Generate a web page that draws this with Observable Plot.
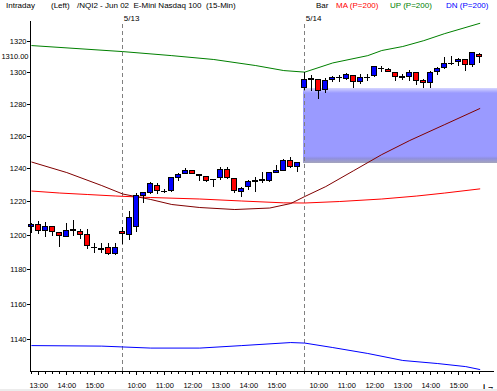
<!DOCTYPE html>
<html><head><meta charset="utf-8">
<script src="https://cdn.jsdelivr.net/npm/d3@7"></script>
<script src="https://cdn.jsdelivr.net/npm/@observablehq/plot@0.6"></script>
<style>
html,body{margin:0;padding:0;background:#fff;}
#wrap{position:relative;width:497px;height:391px;overflow:hidden;font-family:"Liberation Sans",Arial,sans-serif;}
#wrap svg{position:absolute;left:0;top:0;}
.h{position:absolute;top:1px;font-size:8px;white-space:pre;line-height:10px;color:#000;}
#foot{position:absolute;left:0;top:389px;width:497px;height:2px;background:#ececec;}
</style></head><body>
<div id="wrap">
<span class="h" style="left:6px">Intraday</span>
<span class="h" style="left:51px">(Left)</span>
<span class="h" style="left:77px">/NQI2 - Jun 02  E-Mini Nasdaq 100  (15-Min)</span>
<span class="h" style="left:316px">Bar</span>
<span class="h" style="left:336px;color:#ff0000">MA (P=200)</span>
<span class="h" style="left:390px;color:#008000">UP (P=200)</span>
<span class="h" style="left:446px;color:#0000ff">DN (P=200)</span>
<div id="foot"></div>
</div>
<script>
// 15-minute bars, index 0..64 (5/10 12:45 .. 5/14 15:45)
const open  = [1204.8,1205.8,1202.8,1205.0,1201.4,1199.2,1202.9,1201.8,1200.3,1192.5,1192.1,1192.3,1189.0,
  1202.2,1200.4,1204.8,1223.5,1225.1,1229.7,1225.8,1226.3,1234.1,1236.8,1238.8,1236.2,1235.2,1233.2,1234.1,1239.2,1233.8,1225.7,1228.7,1232.2,1232.6,1232.7,1237.4,1238.8,1244.4,1241.2,
  1290.0,1295.6,1295.4,1288.9,1295.2,1296.5,1295.8,1297.7,1293.8,1296.8,1297.8,1302.6,1301.8,1299.5,1297.0,1296.9,1299.7,1294.8,1293.1,1300.1,1302.8,1305.8,1306.7,1308.2,1304.8,1311.5];
const high  = [1207.0,1208.1,1207.4,1205.3,1201.8,1206.8,1208.7,1203.2,1203.2,1194.9,1194.9,1194.9,1194.9,
  1204.8,1214.2,1224.7,1225.5,1231.7,1231.1,1227.1,1234.7,1237.1,1240.2,1239.1,1236.4,1235.4,1233.3,1240.8,1240.4,1234.0,1228.7,1232.7,1234.7,1237.8,1237.8,1242.2,1245.8,1246.8,1243.4,
  1299.9,1298.0,1295.6,1296.0,1297.5,1298.0,1299.3,1298.0,1298.6,1298.6,1303.8,1304.0,1302.5,1300.1,1298.9,1301.2,1300.1,1295.8,1300.6,1303.3,1309.4,1310.2,1308.8,1308.3,1312.9,1312.0];
const low   = [1200.8,1200.3,1198.5,1199.2,1192.6,1198.5,1199.2,1197.3,1191.4,1189.4,1189.0,1188.4,1188.4,
  1194.5,1196.9,1201.8,1219.0,1224.3,1224.3,1225.1,1225.7,1232.0,1236.2,1236.2,1232.3,1231.3,1228.3,1232.7,1233.2,1225.1,1222.7,1226.7,1225.7,1230.7,1231.7,1236.8,1238.8,1239.8,1237.8,
  1288.3,1287.7,1283.1,1287.0,1293.7,1293.5,1294.8,1290.0,1292.5,1294.3,1296.9,1300.1,1299.9,1294.4,1295.2,1294.3,1291.8,1289.9,1289.8,1298.0,1302.3,1304.4,1304.0,1300.9,1303.5,1306.0];
const close = [1206.2,1202.8,1205.0,1202.0,1199.4,1202.6,1202.7,1200.4,1193.5,1192.6,1191.4,1189.0,1192.6,
  1200.8,1210.3,1223.7,1225.1,1230.7,1226.7,1225.6,1234.4,1236.2,1238.8,1236.8,1235.3,1232.7,1233.0,1239.2,1234.1,1226.7,1227.7,1232.1,1232.1,1232.8,1237.4,1238.8,1244.4,1241.2,1243.2,
  1295.4,1295.4,1288.3,1294.4,1296.7,1296.3,1298.4,1293.8,1296.7,1296.6,1303.5,1302.4,1300.4,1297.2,1296.8,1299.7,1294.8,1293.1,1299.7,1302.3,1305.5,1305.6,1308.1,1304.8,1312.4,1310.0];

// indicator lines (bar index, value)
const maIdx = [0,4,8,12,17,24,30,36,39,44,50,55,59,64];
const maVal = [1226.4,1225.2,1224.3,1223.4,1222.5,1221.6,1220.4,1219.3,1219.2,1220.1,1221.6,1223.4,1225.2,1227.7];
const upIdx = [0,13,20,26,32,36,39,43,48,50,53,56,59,64];
const upVal = [1317.4,1313.5,1310.9,1308.4,1304.5,1301.3,1300.3,1306.2,1310.9,1314.2,1316.8,1320.6,1325.2,1331.9];
const dnIdx = [0,10,17,24,30,37,39,43,48,53,58,62,64];
const dnVal = [1136.6,1136.3,1135.2,1135.2,1136.6,1138.3,1138.0,1135.5,1132.2,1128.3,1126.6,1124.9,1123.3];
const trIdx = [0,5,10,13,17,20,24,29,34,37,39,42,46,50,54,59,64];
const trVal = [1244.0,1237.6,1229.7,1224.6,1221.3,1218.3,1216.5,1215.3,1216.2,1218.9,1223.1,1229.1,1238.8,1248.6,1257.3,1267.2,1277.2];

// session separators
const sepIdx = [13,39];
const sepLabels = ["5/13","5/14"];
// time labels
const tickIdx = [1,5,9,15,19,23,27,31,35,41,45,49,53,57,61];
const tickLabels = ["13:00","14:00","15:00","10:00","11:00","12:00","13:00","14:00","15:00","10:00","11:00","12:00","13:00","14:00","15:00"];
const yTicks = [1140,1160,1180,1200,1220,1240,1260,1280,1300,1320];
const lastPrice = [1310];
// gap zone between sessions
const gapStart = 39, gapLow = 1243.2, gapHigh = 1290.0;

const bars = open.map((o,i)=>({i, open:o, high:high[i], low:low[i], close:close[i]}));
const pts = (ix, vs) => ix.map((i,k)=>({i, v:vs[k]}));
const seps = sepIdx.map((i,k)=>({i, label:sepLabels[k]}));
const labelMap = new Map(tickIdx.map((i,k)=>[i, tickLabels[k]]));
const X0 = -0.186, X1 = 66.53, Y0 = 1122.2, Y1 = 1333.1;

const chart = Plot.plot({
  width: 497, height: 391,
  marginLeft: 30, marginRight: 0, marginTop: 21, marginBottom: 20,
  style: {background: "transparent", fontFamily: "Liberation Sans, Arial, sans-serif", fontSize: "7.5px", color: "#000", overflow: "visible"},
  x: {domain: [X0, X1], axis: null},
  y: {type: "log", domain: [Y0, Y1], axis: null},
  marks: [
    Plot.rect([{s: gapStart, lo: gapLow, hi: gapHigh}], {x1: d => d.s - 0.15, x2: () => X1, y1: "lo", y2: "hi", fill: "url(#gapfill)", shapeRendering: "crispEdges"}),
    Plot.ruleX(seps, {x: "i", y1: Y0, y2: Y1, stroke: "#808080", strokeDasharray: "4,3", shapeRendering: "crispEdges"}),
    Plot.text(seps, {x: "i", text: "label", frameAnchor: "top", dy: -6, dx: 1, textAnchor: "start", fontSize: 8}),
    Plot.line(pts(upIdx, upVal), {x: "i", y: "v", stroke: "#008000", strokeWidth: 1}),
    Plot.line(pts(dnIdx, dnVal), {x: "i", y: "v", stroke: "#0000ff", strokeWidth: 1}),
    Plot.line(pts(maIdx, maVal), {x: "i", y: "v", stroke: "#ff0000", strokeWidth: 1}),
    Plot.line(pts(trIdx, trVal), {x: "i", y: "v", stroke: "#800000", strokeWidth: 1}),
    Plot.ruleX(bars, {x: "i", y1: "low", y2: "high", stroke: "#000", shapeRendering: "crispEdges"}),
    Plot.rect(bars, {
      x1: d => d.i - 0.36, x2: d => d.i + 0.36,
      y1: d => Math.min(d.open, d.close), y2: d => Math.max(d.open, d.close),
      fill: d => d.close >= d.open ? "#0000ff" : "#ff0000",
      stroke: "#000", strokeWidth: 1, shapeRendering: "crispEdges"
    }),
    Plot.axisY({ticks: yTicks, anchor: "left", tickSize: 3, tickPadding: 1, tickFormat: d => String(d), shapeRendering: "crispEdges"}),
    Plot.axisY({ticks: lastPrice, anchor: "left", tickSize: 0, tickPadding: 2, tickFormat: d => d.toFixed(2)}),
    Plot.axisX({ticks: bars.map(d => d.i), anchor: "bottom", tickSize: 3, tickFormat: () => "", shapeRendering: "crispEdges"}),
    Plot.axisX({ticks: tickIdx, anchor: "bottom", tickSize: 4, tickPadding: 7, tickFormat: d => labelMap.get(d), shapeRendering: "crispEdges"}),
    Plot.ruleX([X0], {y1: Y0, y2: Y1, stroke: "#000", strokeWidth: 1.5, shapeRendering: "crispEdges"}),
    Plot.ruleY([Y0], {x1: X0, x2: 66.1, stroke: "#000", shapeRendering: "crispEdges"})
  ]
});

const ns = "http://www.w3.org/2000/svg";
const defs = document.createElementNS(ns, "defs");
defs.innerHTML = '<linearGradient id="gapfill" x1="0" y1="0" x2="0" y2="1">' +
  '<stop offset="0" stop-color="#d8d8ff"/><stop offset="0.07" stop-color="#9a9aff"/>' +
  '<stop offset="0.91" stop-color="#9a9aff"/><stop offset="0.94" stop-color="#9090e0"/>' +
  '<stop offset="1" stop-color="#a4a4bc"/></linearGradient>';
chart.insertBefore(defs, chart.firstChild);
document.getElementById("wrap").prepend(chart);
</script>
</body></html>
